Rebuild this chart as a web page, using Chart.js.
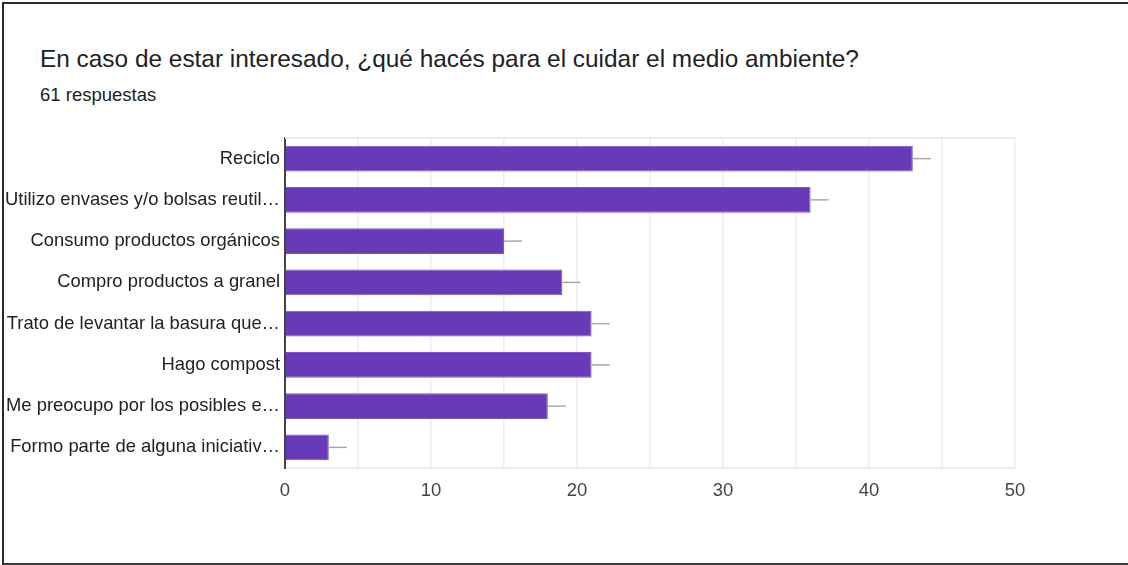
<!DOCTYPE html>
<html>
<head>
<meta charset="utf-8">
<script src="https://cdn.jsdelivr.net/npm/chart.js@4"></script>
<style>
  html, body { margin: 0; padding: 0; background: #fff; }
  body { width: 1128px; height: 565px; position: relative; overflow: hidden; font-family: "Liberation Sans", Arial, sans-serif; }
  #frame { position: absolute; left: 2px; top: 2px; width: 1126px; height: 559px; border-top: 2px solid #2a2a2a; border-left: 2px solid #2a2a2a; border-bottom: 2px solid #3a3a3a; }
  #title { position: absolute; left: 40px; top: 45px; font-size: 24.4px; color: #202124; white-space: nowrap; }
  #subtitle { position: absolute; left: 40px; top: 84px; font-size: 18.5px; color: #202124; white-space: nowrap; }
  #wrap { position: absolute; left: 0; top: 0; width: 1128px; height: 565px; }
</style>
</head>
<body>
<div id="frame"></div>
<div id="title">En caso de estar interesado, ¿qué hacés para el cuidar el medio ambiente?</div>
<div id="subtitle">61 respuestas</div>
<div id="wrap"><canvas id="respChart" width="1128" height="565"></canvas></div>
<script>
const opciones = [
    'Reciclo',
    'Utilizo envases y/o bolsas reutil…',
    'Consumo productos orgánicos',
    'Compro productos a granel',
    'Trato de levantar la basura que…',
    'Hago compost',
    'Me preocupo por los posibles e…',
    'Formo parte de alguna iniciativ…'
];
const respuestas = [43, 36, 15, 19, 21, 21, 18, 3];
const xTicks = [0, 10, 20, 30, 40, 50];

// short grey stub after each bar end + light top edge of the plot
const extras = {
    id: 'extras',
    afterDatasetsDraw(chart) {
        const c = chart.ctx;
        const area = chart.chartArea;
        c.save();
        c.strokeStyle = '#ececec';
        c.lineWidth = 2;
        c.beginPath();
        c.moveTo(area.left, area.top);
        c.lineTo(area.right, area.top);
        c.stroke();

        c.strokeStyle = '#a8a8a8';
        c.lineWidth = 1.5;
        chart.getDatasetMeta(0).data.forEach(bar => {
            c.beginPath();
            c.moveTo(bar.x, bar.y);
            c.lineTo(bar.x + 18, bar.y);
            c.stroke();
        });
        c.restore();
    }
};

const ctx = document.getElementById('respChart').getContext('2d');
const respChart = new Chart(ctx, {
    type: 'bar',
    data: {
        labels: opciones,
        datasets: [{
            data: respuestas,
            backgroundColor: '#673ab7',
            borderColor: '#7c55c6',
            borderWidth: 1,
            categoryPercentage: 1,
            barPercentage: 0.62
        }]
    },
    options: {
        indexAxis: 'y',
        responsive: false,
        animation: false,
        layout: { padding: { left: 0, top: 138, right: 113, bottom: 67 } },
        plugins: { legend: { display: false }, tooltip: { enabled: false } },
        scales: {
            x: {
                min: 0,
                max: 50,
                afterFit: s => { s.height = 30; },
                afterBuildTicks: s => {
                    s.ticks = [0, 5, 10, 15, 20, 25, 30, 35, 40, 45, 50].map(v => ({ value: v }));
                },
                ticks: {
                    color: '#444',
                    font: { family: '"Liberation Sans", Arial', size: 18.5 },
                    padding: 12,
                    maxRotation: 0,
                    autoSkip: false,
                    callback: v => xTicks.includes(v) ? String(v) : ''
                },
                grid: { color: '#eeeeee', lineWidth: 1.5, drawTicks: false },
                border: { color: '#ececec', width: 2 }
            },
            y: {
                afterFit: s => { s.width = 285; },
                ticks: {
                    color: '#222',
                    font: { family: '"Liberation Sans", Arial', size: 18.4 },
                    padding: 5
                },
                grid: { display: false, drawTicks: false },
                border: { color: '#444', width: 2 }
            }
        }
    },
    plugins: [extras]
});
</script>
</body>
</html>
